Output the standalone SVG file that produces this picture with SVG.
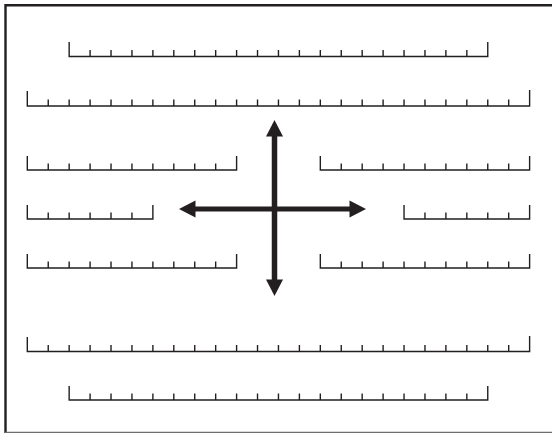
<svg xmlns="http://www.w3.org/2000/svg" width="552" height="433" viewBox="0 0 552 433">
<style>
.r{fill:none;stroke:#231f20;stroke-width:1.4;stroke-linejoin:miter;stroke-linecap:butt}
.shaft{stroke:#231f20;fill:none}
.head{fill:#231f20;stroke:none}
.frame{fill:none;stroke:#231f20;stroke-width:2.4}
.frameb{fill:none;stroke:#6d6d6d;stroke-width:1.2}
</style>
<rect width="552" height="433" fill="#fff"/>
<g id="frame">
<path class="frame" d="M5.5 433V5.3H552"/>
<path class="frameb" d="M5 432.3H552"/>
</g>
<g id="ruler1"><path class="r" d="M69.16 42V56.5H487.76V42M90.09 56.5v-6.5m20.93 6.5v-6.5m20.93 6.5v-6.5m20.93 6.5v-6.5m20.93 6.5v-6.5m20.93 6.5v-6.5m20.93 6.5v-6.5m20.93 6.5v-6.5m20.93 6.5v-6.5m20.93 6.5v-6.5m20.93 6.5v-6.5m20.93 6.5v-6.5m20.93 6.5v-6.5m20.93 6.5v-6.5m20.93 6.5v-6.5m20.93 6.5v-6.5m20.93 6.5v-6.5m20.93 6.5v-6.5m20.93 6.5v-6.5"/></g>
<g id="ruler2"><path class="r" d="M27.3 91V106H529.62V90M48.23 106v-6.5m20.93 6.5v-6.5m20.93 6.5v-6.5m20.93 6.5v-6.5m20.93 6.5v-6.5m20.93 6.5v-6.5m20.93 6.5v-6.5m20.93 6.5v-6.5m20.93 6.5v-6.5m20.93 6.5v-6.5m20.93 6.5v-6.5m20.93 6.5v-6.5m20.93 6.5v-6.5m20.93 6.5v-6.5m20.93 6.5v-6.5m20.93 6.5v-6.5m20.93 6.5v-6.5m20.93 6.5v-6.5m20.93 6.5v-6.5m20.93 6.5v-6.5m20.93 6.5v-6.5m20.93 6.5v-6.5m20.93 6.5v-6.5"/></g>
<g id="ruler3-left"><path class="r" d="M27.3 156V170H236.6V156M48.23 170v-6.5m20.93 6.5v-6.5m20.93 6.5v-6.5m20.93 6.5v-6.5m20.93 6.5v-6.5m20.93 6.5v-6.5m20.93 6.5v-6.5m20.93 6.5v-6.5m20.93 6.5v-6.5"/></g>
<g id="ruler3-right"><path class="r" d="M320.32 156V170H529.62V156M341.25 170v-6.5m20.93 6.5v-6.5m20.93 6.5v-6.5m20.93 6.5v-6.5m20.93 6.5v-6.5m20.93 6.5v-6.5m20.93 6.5v-6.5m20.93 6.5v-6.5m20.93 6.5v-6.5"/></g>
<g id="ruler4-left"><path class="r" d="M27.3 205V219H152.88V205M48.23 219v-6.5m20.93 6.5v-6.5m20.93 6.5v-6.5m20.93 6.5v-6.5m20.93 6.5v-6.5"/></g>
<g id="ruler4-right"><path class="r" d="M404.04 205V219H529.62V205M424.97 219v-6.5m20.93 6.5v-6.5m20.93 6.5v-6.5m20.93 6.5v-6.5m20.93 6.5v-6.5"/></g>
<g id="ruler5-left"><path class="r" d="M27.3 254V268H236.6V254M48.23 268v-6.5m20.93 6.5v-6.5m20.93 6.5v-6.5m20.93 6.5v-6.5m20.93 6.5v-6.5m20.93 6.5v-6.5m20.93 6.5v-6.5m20.93 6.5v-6.5m20.93 6.5v-6.5"/></g>
<g id="ruler5-right"><path class="r" d="M320.32 254V268H529.62V254M341.25 268v-6.5m20.93 6.5v-6.5m20.93 6.5v-6.5m20.93 6.5v-6.5m20.93 6.5v-6.5m20.93 6.5v-6.5m20.93 6.5v-6.5m20.93 6.5v-6.5m20.93 6.5v-6.5"/></g>
<g id="ruler6"><path class="r" d="M27.3 337V351.5H529.62V336M48.23 351.5v-6.5m20.93 6.5v-6.5m20.93 6.5v-6.5m20.93 6.5v-6.5m20.93 6.5v-6.5m20.93 6.5v-6.5m20.93 6.5v-6.5m20.93 6.5v-6.5m20.93 6.5v-6.5m20.93 6.5v-6.5m20.93 6.5v-6.5m20.93 6.5v-6.5m20.93 6.5v-6.5m20.93 6.5v-6.5m20.93 6.5v-6.5m20.93 6.5v-6.5m20.93 6.5v-6.5m20.93 6.5v-6.5m20.93 6.5v-6.5m20.93 6.5v-6.5m20.93 6.5v-6.5m20.93 6.5v-6.5m20.93 6.5v-6.5"/></g>
<g id="ruler7"><path class="r" d="M69.16 386V400H487.76V386M90.09 400v-6.5m20.93 6.5v-6.5m20.93 6.5v-6.5m20.93 6.5v-6.5m20.93 6.5v-6.5m20.93 6.5v-6.5m20.93 6.5v-6.5m20.93 6.5v-6.5m20.93 6.5v-6.5m20.93 6.5v-6.5m20.93 6.5v-6.5m20.93 6.5v-6.5m20.93 6.5v-6.5m20.93 6.5v-6.5m20.93 6.5v-6.5m20.93 6.5v-6.5m20.93 6.5v-6.5m20.93 6.5v-6.5m20.93 6.5v-6.5"/></g>
<g id="connectors">
<line class="shaft" x1="274.5" y1="134" x2="274.5" y2="282" stroke-width="5.5"/>
<line class="shaft" x1="194" y1="209" x2="351" y2="209" stroke-width="5"/>
<polygon class="head" points="274.5,120 283,136.5 266,136.5"/>
<polygon class="head" points="274.5,296 283,279.5 266,279.5"/>
<polygon class="head" points="179,209 195.5,200.5 195.5,217.5"/>
<polygon class="head" points="366,209 349.5,200.5 349.5,217.5"/>
</g>
</svg>
